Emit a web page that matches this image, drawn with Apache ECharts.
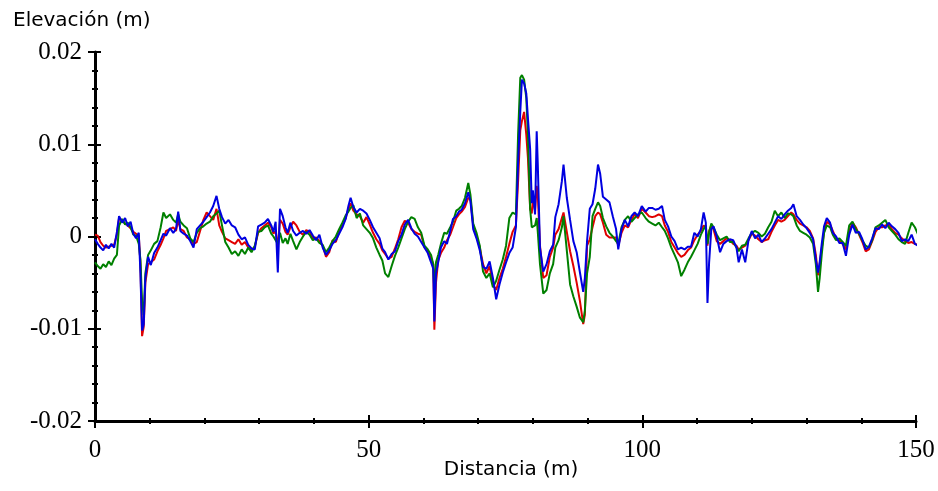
<!DOCTYPE html>
<html><head><meta charset="utf-8">
<script src="https://cdn.jsdelivr.net/npm/echarts@6/dist/echarts.min.js"></script>
<style>html,body{margin:0;padding:0;background:#fff}#c{width:938px;height:491px}</style>
</head><body><div id="c"></div>
<script>
const distance = [0,0.5,1.0,1.5,2.0,2.5,3.0,3.5,4.0,4.4,5.0,5.5,6.0,6.5,7.0,7.5,8.0,8.3,8.6,8.9,9.2,9.7,10.2,10.8,11.4,12.0,12.5,13.0,13.7,14.3,14.8,15.2,15.6,16.2,16.8,17.4,18.0,18.6,19.2,19.8,20.4,21.0,21.6,22.2,22.7,23.2,23.8,24.4,25.0,25.6,26.2,26.8,27.4,28.0,28.6,29.2,29.8,
30.4,31.0,31.6,32.2,32.6,33.0,33.4,33.8,34.3,34.8,35.2,35.7,36.2,36.8,37.4,38.0,38.6,39.2,39.8,40.4,41.0,41.6,42.2,42.8,43.4,44.0,44.6,45.2,45.8,46.3,46.7,47.2,47.8,48.4,49.0,49.6,50.2,50.8,51.4,52.0,52.5,53.0,53.6,54.2,54.8,55.4,56.0,56.6,57.2,57.8,58.4,59.0,59.6,60.2,
60.8,61.4,61.8,62.0,62.3,62.7,63.2,63.8,64.3,64.9,65.4,66.0,66.5,67.0,67.6,68.2,68.6,69.1,69.7,70.3,70.9,71.5,72.1,72.7,73.3,73.9,74.5,75.1,75.7,76.3,76.9,77.3,77.7,78.0,78.4,78.8,79.1,79.5,79.8,80.0,80.4,80.7,80.9,81.3,81.9,82.5,83.1,83.7,84.1,84.7,85.3,85.6,86.2,86.8,87.4,88.0,88.6,89.2,89.5,89.9,
90.4,90.9,91.4,91.9,92.3,92.8,93.4,94.0,94.6,95.2,95.6,96.2,96.8,97.4,98.0,98.6,99.2,99.9,100.6,101.2,101.8,102.4,103.0,103.6,104.1,104.7,105.3,105.9,106.5,107.1,107.7,108.3,108.9,109.5,110.1,110.7,111.2,111.6,111.9,112.2,112.6,113.0,113.6,114.2,114.8,115.4,116.0,116.6,117.2,117.6,118.2,118.8,119.4,120.0,
120.6,121.2,121.8,122.4,123.0,123.6,124.2,124.8,125.4,126.0,126.6,127.2,127.6,128.2,128.8,129.4,130.0,130.6,131.2,131.7,132.1,132.4,132.8,133.2,133.7,134.3,134.8,135.4,136.0,136.6,137.2,137.8,138.4,139.0,139.6,140.2,140.8,141.4,142.0,142.6,143.2,143.8,144.4,145.0,145.6,146.2,146.8,147.4,148.0,148.6,149.2,149.8,150.4,151.1];

const blue = [-0.0003,-0.0008,-0.0012,-0.0015,-0.0009,-0.0013,-0.0008,-0.0012,0.0005,0.0022,0.0015,0.0020,0.0011,0.0016,0.0003,-0.0002,0.0004,-0.0040,-0.0102,-0.0095,-0.0045,-0.0022,-0.0031,-0.0018,-0.0012,-0.0004,0.0003,0.0001,0.0009,0.0004,0.0008,0.0027,0.0006,0.0003,0.0001,-0.0005,-0.0012,0.0008,0.0012,0.0016,0.0021,0.0026,0.0033,0.0044,0.0030,0.0021,0.0014,0.0018,0.0012,0.0010,0.0002,-0.0003,-0.0001,-0.0009,-0.0013,-0.0014,0.0011,
0.0013,0.0015,0.0019,0.0012,0.0005,0.0016,-0.0039,0.0030,0.0022,0.0010,0.0004,0.0015,0.0006,0.0001,0.0004,0.0006,0.0003,0.0007,0.0001,-0.0004,0.0002,-0.0012,-0.0020,-0.0015,-0.0008,-0.0004,0.0003,0.0010,0.0019,0.0033,0.0042,0.0032,0.0026,0.0030,0.0028,0.0025,0.0018,0.0010,0.0004,-0.0002,-0.0013,-0.0017,-0.0025,-0.0019,-0.0016,-0.0005,0.0002,0.0013,0.0018,0.0009,0.0003,0.0000,-0.0006,-0.0012,
-0.0018,-0.0028,-0.0035,-0.0092,-0.0040,-0.0028,-0.0012,-0.0005,-0.0008,0.0006,0.0019,0.0022,0.0027,0.0029,0.0036,0.0048,0.0038,0.0008,-0.0002,-0.0015,-0.0033,-0.0035,-0.0027,-0.0045,-0.0068,-0.0052,-0.0039,-0.0028,-0.0018,-0.0012,0.0010,0.0080,0.0135,0.0170,0.0166,0.0155,0.0128,0.0095,0.0036,0.0050,0.0024,0.0114,0.0078,-0.0012,-0.0038,-0.0030,-0.0016,-0.0009,0.0021,0.0035,0.0060,0.0078,0.0042,0.0018,-0.0005,-0.0017,-0.0039,-0.0060,-0.0045,-0.0005,
0.0030,0.0035,0.0052,0.0078,0.0068,0.0043,0.0040,0.0037,0.0022,0.0008,-0.0014,0.0008,0.0018,0.0011,0.0022,0.0026,0.0022,0.0033,0.0027,0.0031,0.0031,0.0029,0.0030,0.0033,0.0018,0.0011,0.0000,-0.0005,-0.0014,-0.0012,-0.0014,-0.0011,-0.0011,0.0004,0.0000,0.0008,0.0026,0.0015,-0.0072,-0.0028,0.0008,0.0011,0.0000,-0.0017,-0.0008,-0.0005,-0.0003,-0.0004,-0.0012,-0.0028,-0.0014,-0.0028,-0.0004,0.0006,
-0.0002,0.0002,-0.0006,-0.0002,0.0003,0.0008,0.0015,0.0022,0.0019,0.0024,0.0028,0.0031,0.0035,0.0022,0.0018,0.0013,0.0009,0.0004,-0.0003,-0.0025,-0.0039,-0.0028,-0.0007,0.0011,0.0020,0.0015,0.0004,0.0000,-0.0007,-0.0007,-0.0021,0.0002,0.0013,0.0004,0.0005,-0.0003,-0.0014,-0.0011,-0.0002,0.0009,0.0008,0.0013,0.0009,0.0015,0.0011,0.0008,0.0004,-0.0005,-0.0003,-0.0005,0.0002,-0.0008,-0.0010,-0.0016];

const red = [0.0002,0.0001,-0.0006,-0.0010,-0.0012,-0.0011,-0.0010,-0.0009,0.0002,0.0020,0.0017,0.0014,0.0012,0.0009,0.0005,0.0003,0.0001,-0.0030,-0.0108,-0.0098,-0.0050,-0.0030,-0.0028,-0.0025,-0.0016,-0.0009,-0.0002,0.0006,0.0008,0.0010,0.0006,0.0018,0.0008,0.0006,-0.0001,-0.0003,-0.0008,-0.0006,0.0006,0.0018,0.0026,0.0022,0.0018,0.0030,0.0012,0.0005,-0.0002,-0.0004,-0.0006,-0.0008,-0.0003,-0.0009,-0.0006,-0.0012,-0.0015,-0.0011,0.0004,
0.0009,0.0012,0.0015,0.0010,0.0003,0.0006,-0.0012,0.0018,0.0014,0.0005,0.0002,0.0010,0.0016,0.0012,0.0005,0.0002,0.0007,0.0005,-0.0002,-0.0001,-0.0005,-0.0010,-0.0022,-0.0017,-0.0004,-0.0006,0.0005,0.0012,0.0020,0.0030,0.0036,0.0028,0.0024,0.0022,0.0015,0.0021,0.0013,0.0004,-0.0003,-0.0008,-0.0015,-0.0019,-0.0024,-0.0022,-0.0013,-0.0003,0.0010,0.0017,0.0015,0.0008,0.0005,0.0003,0.0002,-0.0012,
-0.0016,-0.0024,-0.0030,-0.0101,-0.0050,-0.0026,-0.0018,-0.0012,-0.0004,0.0002,0.0010,0.0020,0.0024,0.0027,0.0032,0.0042,0.0040,0.0012,0.0000,-0.0012,-0.0030,-0.0040,-0.0032,-0.0052,-0.0058,-0.0045,-0.0035,-0.0022,-0.0008,0.0005,0.0012,0.0060,0.0115,0.0125,0.0135,0.0110,0.0085,0.0030,0.0025,0.0040,0.0028,0.0055,0.0045,-0.0010,-0.0045,-0.0042,-0.0022,-0.0012,0.0002,0.0008,0.0020,0.0026,0.0005,-0.0016,-0.0032,-0.0050,-0.0070,-0.0095,-0.0085,-0.0010,
-0.0003,0.0010,0.0022,0.0026,0.0024,0.0015,0.0002,-0.0001,-0.0001,-0.0001,-0.0010,0.0004,0.0012,0.0010,0.0018,0.0024,0.0020,0.0030,0.0026,0.0022,0.0021,0.0022,0.0024,0.0022,0.0012,0.0005,-0.0006,-0.0012,-0.0018,-0.0022,-0.0020,-0.0015,-0.0012,-0.0004,0.0002,0.0006,0.0012,0.0010,-0.0010,0.0006,0.0012,0.0008,-0.0005,-0.0008,-0.0005,-0.0002,-0.0004,-0.0008,-0.0010,-0.0014,-0.0012,-0.0010,-0.0004,0.0003,
0.0001,-0.0003,-0.0006,-0.0004,-0.0003,0.0005,0.0012,0.0018,0.0016,0.0018,0.0022,0.0026,0.0024,0.0018,0.0014,0.0012,0.0010,0.0006,-0.0002,-0.0020,-0.0042,-0.0030,-0.0012,0.0005,0.0016,0.0013,0.0006,-0.0002,-0.0005,-0.0008,-0.0014,0.0006,0.0015,0.0010,0.0002,-0.0006,-0.0016,-0.0014,-0.0005,0.0005,0.0010,0.0010,0.0012,0.0013,0.0008,0.0004,0.0002,-0.0002,-0.0005,-0.0007,-0.0006,-0.0008,-0.0009,-0.0012];

const green = [-0.0028,-0.0032,-0.0035,-0.0030,-0.0033,-0.0027,-0.0031,-0.0024,-0.0020,0.0012,0.0019,0.0013,0.0015,0.0010,0.0002,0.0001,-0.0008,-0.0025,-0.0070,-0.0085,-0.0040,-0.0020,-0.0015,-0.0008,-0.0005,0.0010,0.0026,0.0020,0.0024,0.0018,0.0015,0.0024,0.0016,0.0012,0.0009,-0.0002,-0.0006,0.0004,0.0009,0.0011,0.0014,0.0016,0.0022,0.0025,0.0028,0.0012,-0.0006,-0.0012,-0.0019,-0.0016,-0.0021,-0.0014,-0.0019,-0.0012,-0.0017,-0.0010,0.0005,
0.0006,0.0010,0.0012,0.0003,0.0000,-0.0004,-0.0008,0.0004,-0.0007,-0.0002,-0.0008,0.0003,-0.0005,-0.0014,-0.0006,0.0000,0.0005,0.0002,-0.0004,-0.0002,-0.0007,-0.0009,-0.0017,-0.0012,-0.0005,0.0000,0.0008,0.0015,0.0023,0.0027,0.0031,0.0034,0.0020,0.0025,0.0012,0.0008,0.0004,-0.0002,-0.0012,-0.0020,-0.0026,-0.0040,-0.0044,-0.0032,-0.0021,-0.0012,-0.0002,0.0008,0.0016,0.0021,0.0019,0.0010,0.0004,-0.0010,
-0.0014,-0.0020,-0.0030,-0.0060,-0.0028,-0.0020,-0.0008,0.0004,0.0003,0.0010,0.0016,0.0028,0.0030,0.0033,0.0042,0.0058,0.0045,0.0014,0.0004,-0.0010,-0.0038,-0.0045,-0.0040,-0.0055,-0.0048,-0.0036,-0.0025,-0.0010,0.0020,0.0026,0.0024,0.0110,0.0172,0.0175,0.0170,0.0150,0.0110,0.0030,0.0010,0.0008,0.0012,0.0020,0.0005,-0.0030,-0.0062,-0.0058,-0.0040,-0.0030,-0.0012,-0.0004,0.0010,0.0022,-0.0015,-0.0052,-0.0065,-0.0076,-0.0088,-0.0093,-0.0080,-0.0040,
-0.0022,0.0022,0.0030,0.0037,0.0033,0.0020,0.0011,0.0004,0.0000,-0.0005,-0.0008,0.0010,0.0018,0.0022,0.0016,0.0020,0.0024,0.0026,0.0020,0.0016,0.0014,0.0012,0.0015,0.0010,0.0006,-0.0002,-0.0012,-0.0020,-0.0028,-0.0043,-0.0036,-0.0028,-0.0022,-0.0015,-0.0008,0.0002,0.0008,0.0012,-0.0008,0.0004,0.0014,0.0010,0.0002,-0.0004,-0.0002,0.0000,-0.0006,-0.0006,-0.0012,-0.0016,-0.0010,-0.0009,-0.0002,0.0004,
0.0006,0.0004,0.0000,0.0003,0.0010,0.0016,0.0028,0.0022,0.0026,0.0020,0.0025,0.0024,0.0022,0.0012,0.0006,0.0004,0.0002,-0.0001,-0.0008,-0.0030,-0.0060,-0.0045,-0.0018,0.0004,0.0012,0.0010,0.0002,-0.0004,-0.0002,-0.0006,-0.0010,0.0012,0.0016,0.0008,0.0003,-0.0004,-0.0010,-0.0012,-0.0004,0.0010,0.0012,0.0015,0.0018,0.0010,0.0006,0.0002,-0.0003,-0.0006,-0.0008,0.0004,0.0015,0.0010,0.0002,-0.0006];

const xTicks = [0, 50, 100, 150];
const yTicks = [-0.02, -0.01, 0, 0.01, 0.02];

const pair = arr => distance.map((d, i) => [d, arr[i]]);
const chart = echarts.init(document.getElementById('c'), null, {renderer: 'canvas'});
const labelFont = {fontFamily: '"Liberation Serif", "Times New Roman", serif', fontSize: 25, color: '#000'};
const commonX = {type: 'value', min: xTicks[0], max: xTicks[xTicks.length - 1], interval: 50, splitLine: {show: false}};
const commonY = {type: 'value', min: yTicks[0], max: yTicks[yTicks.length - 1], interval: 0.01, splitLine: {show: false}};
chart.setOption({
  animation: false,
  backgroundColor: '#fff',
  grid: {left: 95, right: 22, top: 52, bottom: 70},
  xAxis: [
    Object.assign({}, commonX, {position: 'bottom',
      axisLine: {show: true, onZero: false, lineStyle: {color: '#000', width: 3}},
      axisTick: {show: true, length: 7, lineStyle: {color: '#000', width: 2}},
      minorTick: {show: true, splitNumber: 5, length: 3, lineStyle: {color: '#000', width: 2}},
      axisLabel: Object.assign({margin: 17}, labelFont)}),
    Object.assign({}, commonX, {position: 'bottom',
      axisLine: {show: false, onZero: false},
      axisTick: {show: true, inside: true, length: 6, lineStyle: {color: '#000', width: 2}},
      minorTick: {show: true, splitNumber: 5, length: 3, lineStyle: {color: '#000', width: 2}},
      axisLabel: {show: false}})
  ],
  yAxis: [
    Object.assign({}, commonY, {position: 'left',
      axisLine: {show: true, onZero: false, lineStyle: {color: '#000', width: 3}},
      axisTick: {show: true, length: 7, lineStyle: {color: '#000', width: 2}},
      minorTick: {show: true, splitNumber: 5, length: 3, lineStyle: {color: '#000', width: 2}},
      axisLabel: Object.assign({margin: 13}, labelFont)}),
    Object.assign({}, commonY, {position: 'left',
      axisLine: {show: false, onZero: false},
      axisTick: {show: true, inside: true, length: 6, lineStyle: {color: '#000', width: 2}},
      minorTick: {show: true, splitNumber: 5, length: 3, lineStyle: {color: '#000', width: 2}},
      axisLabel: {show: false}})
  ],
  graphic: [
    {type: 'text', x: 13, y: 11, style: {text: 'Elevación (m)', font: '20px "DejaVu Sans"', fill: '#000'}},
    {type: 'text', x: 511, y: 460, style: {text: 'Distancia (m)', font: '20px "DejaVu Sans"', fill: '#000', textAlign: 'center'}}
  ],
  series: [
    {name: 'red', type: 'line', data: pair(red), showSymbol: false, clip: false, lineStyle: {color: '#e00000', width: 2}},
    {name: 'green', type: 'line', data: pair(green), showSymbol: false, clip: false, lineStyle: {color: '#008000', width: 2}},
    {name: 'blue', type: 'line', data: pair(blue), showSymbol: false, clip: false, lineStyle: {color: '#0000e0', width: 2}}
  ]
});
</script></body></html>
